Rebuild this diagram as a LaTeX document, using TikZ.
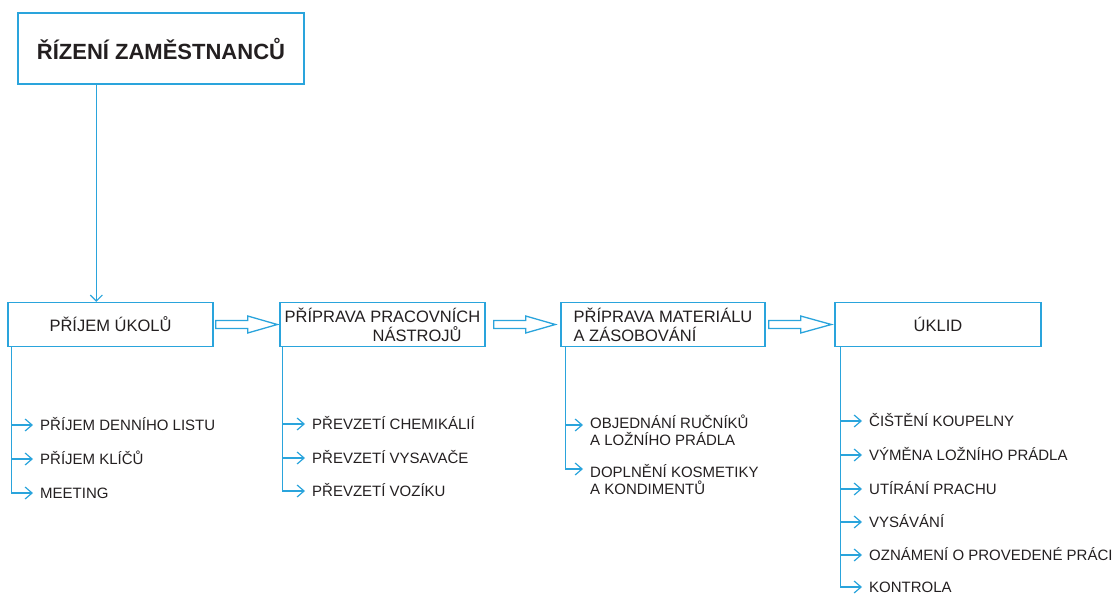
\documentclass[tikz,border=0pt]{standalone}
\usepackage{fontspec}
\setmainfont{Liberation Sans}
\usetikzlibrary{arrows.meta,calc}
\definecolor{lineblue}{HTML}{2AA4DC}
\definecolor{ink}{HTML}{231F20}
% hollow block arrow between two named end points (same height)
\newcommand\blockarrow[2]{%
  \draw[blk] ($(#1)+(0,-4)$) -- ($(#1)+(32,-4)$) -- ($(#1)+(32,-8.5)$) -- (#2)
    -- ($(#1)+(32,8.5)$) -- ($(#1)+(32,4)$) -- ($(#1)+(0,4)$) -- cycle;}
\begin{document}
\begin{tikzpicture}[x=1pt,y=-1pt,
  box/.style={draw=lineblue,line width=1.3pt,fill=white,minimum width=205pt,
    minimum height=44pt,inner sep=0pt,align=left,text=ink,
    font=\fontsize{16.5}{19}\selectfont},
  item/.style={anchor=west,inner sep=0pt,text=ink,text height=10.7pt,
    text depth=0pt,font=\fontsize{15}{17}\selectfont},
  conn/.style={draw=lineblue,line width=1.2pt,
    -{Straight Barb[length=7pt,width=12pt,line width=1.2pt]}},
  blk/.style={draw=lineblue,line width=1.3pt,fill=white,line join=miter}]
\useasboundingbox (0,0) rectangle (1118,596);

% title
\node[box,minimum width=286pt,minimum height=71pt,
  font=\bfseries\fontsize{22}{26}\selectfont] (t) at (161,48.5) {ŘÍZENÍ ZAMĚSTNANCŮ};

% main steps
\node[box] (b1) at (110.5,324.5) {PŘÍJEM ÚKOLŮ};
\node[box] (b2) at (382.5,324.5) {PŘÍPRAVA PRACOVNÍCH\\\hspace*{88pt}NÁSTROJŮ};
\node[box,minimum width=204pt] (b3) at (663,324.5) {PŘÍPRAVA MATERIÁLU\\A ZÁSOBOVÁNÍ};
\node[box,minimum width=206pt] (b4) at (938,324.5) {ÚKLID};

\draw[conn,-{Straight Barb[length=6pt,width=12pt,line width=1.2pt]}]
  ($(t.south west)+(79,0)$) -- ($(b1.north west)+(89,0)$);

\coordinate (a1s) at ($(b1.east)+(2,0)$);  \coordinate (a1e) at ($(b2.west)+(-2,0)$);
\coordinate (a2s) at ($(b2.east)+(8,0)$);  \coordinate (a2e) at ($(b3.west)+(-5,0)$);
\coordinate (a3s) at ($(b3.east)+(3,0)$);  \coordinate (a3e) at ($(b4.west)+(-3,0)$);
\blockarrow{a1s}{a1e}
\blockarrow{a2s}{a2e}
\blockarrow{a3s}{a3e}

% sub-tasks: receiving tasks
\node[item] (i11) at (40,425) {PŘÍJEM DENNÍHO LISTU};
\node[item] (i12) at (40,459) {PŘÍJEM KLÍČŮ};
\node[item] (i13) at (40,493) {MEETING};
\foreach \i in {i11,i12,i13}
  \draw[conn] ($(b1.south west)+(4,0)$) |- ($(\i.west)+(-7,0)$);

% sub-tasks: tools
\node[item] (i21) at (312,424) {PŘEVZETÍ CHEMIKÁLIÍ};
\node[item] (i22) at (312,458) {PŘEVZETÍ VYSAVAČE};
\node[item] (i23) at (312,491) {PŘEVZETÍ VOZÍKU};
\foreach \i in {i21,i22,i23}
  \draw[conn] ($(b2.south west)+(3,0)$) |- ($(\i.west)+(-7,0)$);

% sub-tasks: material and supplies
\node[item] (i31) at (590,423) {OBJEDNÁNÍ RUČNÍKŮ};
\node[item] (i31b) at (590,440) {A LOŽNÍHO PRÁDLA};
\node[item] (i32) at (590,472) {DOPLNĚNÍ KOSMETIKY};
\node[item] (i32b) at (590,489) {A KONDIMENTŮ};
\draw[conn] ($(b3.south west)+(5,0)$) |- ($(i31.west)+(-7,2)$);
\draw[conn] ($(b3.south west)+(5,0)$) |- ($(i32.west)+(-7,-3)$);

% sub-tasks: cleaning
\node[item] (i41) at (869,421) {ČIŠTĚNÍ KOUPELNY};
\node[item] (i42) at (869,455) {VÝMĚNA LOŽNÍHO PRÁDLA};
\node[item] (i43) at (869,489) {UTÍRÁNÍ PRACHU};
\node[item] (i44) at (869,522) {VYSÁVÁNÍ};
\node[item] (i45) at (869,555) {OZNÁMENÍ O PROVEDENÉ PRÁCI};
\node[item] (i46) at (869,587) {KONTROLA};
\foreach \i in {i41,i42,i43,i44,i45,i46}
  \draw[conn] ($(b4.south west)+(6,0)$) |- ($(\i.west)+(-7,0)$);
\end{tikzpicture}
\end{document}
